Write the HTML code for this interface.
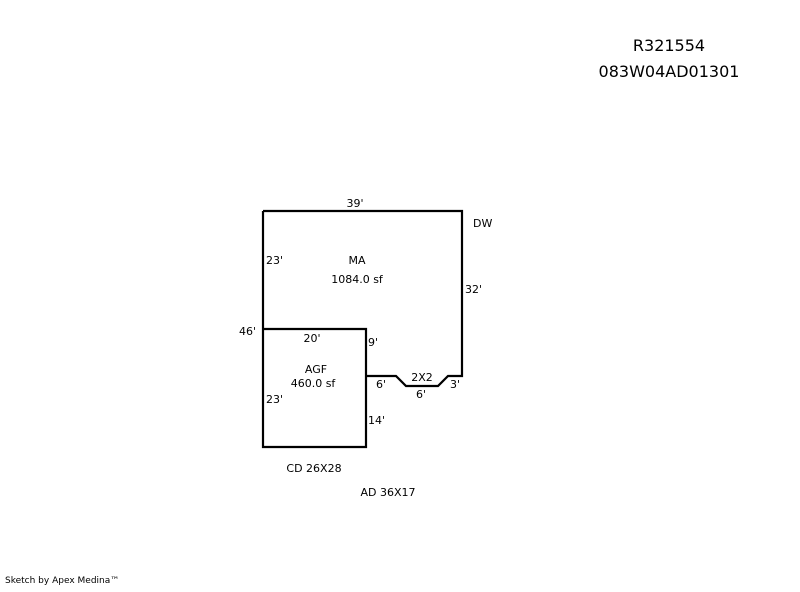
<!DOCTYPE html>
<html><head><style>
body{margin:0;background:#fff;}
svg text{font-family:"DejaVu Sans","Liberation Sans",sans-serif;font-size:11px;fill:#000;}
</style></head><body>
<svg width="800" height="587" xmlns="http://www.w3.org/2000/svg">
<g fill="none" stroke="#000" stroke-width="2.2">
<path d="M263,211 H462 V376 H448 L438,386 H406 L396,376 H366"/>
<path d="M263,211 V447 H366 V329 H263"/>
</g>
<text x="669" y="51" text-anchor="middle" style="font-size:16px">R321554</text>
<text x="669" y="77" text-anchor="middle" style="font-size:16px">083W04AD01301</text>
<text x="355" y="207" text-anchor="middle">39'</text>
<text x="473" y="227">DW</text>
<text x="266" y="264">23'</text>
<text x="357" y="264" text-anchor="middle">MA</text>
<text x="357" y="283" text-anchor="middle">1084.0 sf</text>
<text x="465" y="293">32'</text>
<text x="239" y="335">46'</text>
<text x="312" y="342" text-anchor="middle">20'</text>
<text x="368" y="346">9'</text>
<text x="316" y="373" text-anchor="middle">AGF</text>
<text x="313" y="387" text-anchor="middle">460.0 sf</text>
<text x="422" y="381" text-anchor="middle">2X2</text>
<text x="376" y="388">6'</text>
<text x="450" y="388">3'</text>
<text x="421" y="398" text-anchor="middle">6'</text>
<text x="266" y="403">23'</text>
<text x="368" y="424">14'</text>
<text x="314" y="472" text-anchor="middle">CD 26X28</text>
<text x="388" y="496" text-anchor="middle">AD 36X17</text>
<text x="5" y="583" style="font-size:9px">Sketch by Apex Medina™</text>
</svg>
</body></html>
